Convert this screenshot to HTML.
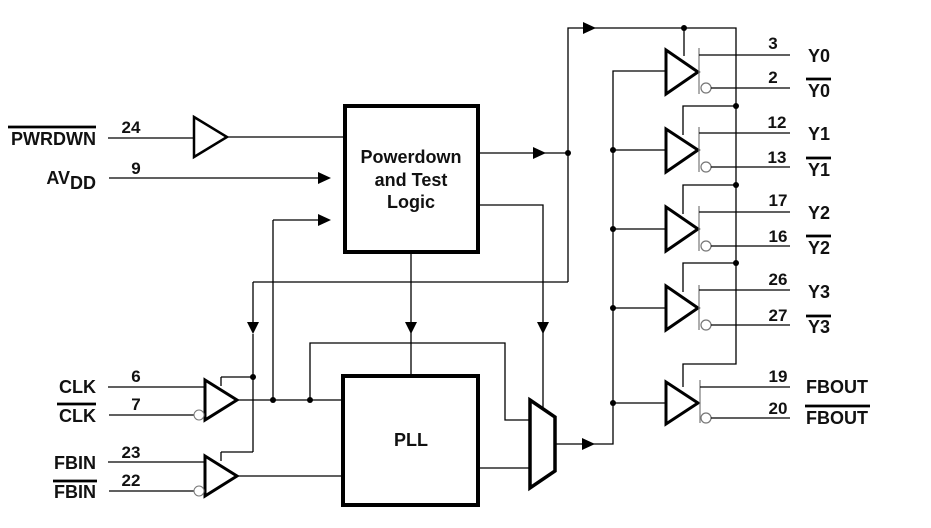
<!DOCTYPE html>
<html><head><meta charset="utf-8"><style>
html,body{margin:0;padding:0;background:#fff;}
svg{display:block;}
text{font-family:"Liberation Sans",Arial,sans-serif;font-weight:bold;fill:#111;}
</style></head><body>
<svg width="931" height="528" viewBox="0 0 931 528" xmlns="http://www.w3.org/2000/svg">
<g stroke="#000" stroke-width="1.3" fill="none">
<line x1="108" y1="138" x2="194" y2="138"/>
<line x1="227" y1="137" x2="345" y2="137"/>
<line x1="109" y1="178" x2="320" y2="178"/>
<line x1="273" y1="220" x2="320" y2="220"/>
<line x1="273" y1="220" x2="273" y2="400"/>
<line x1="253" y1="282" x2="568" y2="282"/>
<line x1="253" y1="282" x2="253" y2="326"/>
<line x1="253" y1="334" x2="253" y2="452"/>
<line x1="253" y1="377" x2="221" y2="377"/><line x1="221" y1="377" x2="221" y2="386"/>
<line x1="253" y1="452" x2="221" y2="452"/><line x1="221" y1="452" x2="221" y2="461"/>
<line x1="108" y1="387" x2="205" y2="387"/>
<line x1="109" y1="415" x2="195" y2="415"/>
<line x1="237" y1="400" x2="343" y2="400"/>
<line x1="108" y1="462" x2="205" y2="462"/>
<line x1="109" y1="491" x2="195" y2="491"/>
<line x1="237" y1="476" x2="343" y2="476"/>
<polyline points="310,400 310,343 505,343 505,420 530,420"/>
<line x1="411" y1="252" x2="411" y2="375"/>
<polyline points="478,205 543,205 543,410"/>
<line x1="478" y1="468" x2="530" y2="468"/>
<polyline points="555,444 613,444 613,71 666,71"/>
<line x1="613" y1="150" x2="666" y2="150"/>
<line x1="613" y1="229" x2="666" y2="229"/>
<line x1="613" y1="308" x2="666" y2="308"/>
<line x1="613" y1="403" x2="666" y2="403"/>
<line x1="478" y1="153" x2="568" y2="153"/>
<polyline points="568,282 568,28 736,28 736,364 683,364 683,387"/>
<line x1="684" y1="28" x2="684" y2="56"/>
<polyline points="736,106 683,106 683,135"/>
<polyline points="736,185 683,185 683,214"/>
<polyline points="736,263 683,263 683,292"/>
</g>
<rect x="345" y="106" width="133" height="146" fill="none" stroke="#000" stroke-width="4"/>
<rect x="343" y="376" width="135" height="129" fill="none" stroke="#000" stroke-width="4"/>
<polygon points="530,400 555,417 555,471 530,488" fill="#fff" stroke="#000" stroke-width="3.5"/>
<polygon points="194,117 227,137 194,157" fill="#fff" stroke="#000" stroke-width="2.5"/>
<polygon points="205,380 237,400 205,420" fill="#fff" stroke="#000" stroke-width="3"/>
<polygon points="205,456 237,476 205,496" fill="#fff" stroke="#000" stroke-width="3"/>
<circle cx="199" cy="415" r="5" fill="#fff" stroke="#777" stroke-width="1"/>
<circle cx="199" cy="491" r="5" fill="#fff" stroke="#777" stroke-width="1"/>
<g stroke="#000" fill="#fff">
<polygon points="666,50 698,72 666,94" stroke-width="3"/>
<polygon points="666,129 698,150 666,172" stroke-width="3"/>
<polygon points="666,207 698,229 666,251" stroke-width="3"/>
<polygon points="666,286 698,308 666,330" stroke-width="3"/>
<polygon points="666,382 698,403 666,424" stroke-width="3"/>
</g>
<g stroke="#777" stroke-width="1.2" fill="#fff">
<line x1="699" y1="48" x2="699" y2="94"/><line x1="699" y1="127" x2="699" y2="172"/>
<line x1="699" y1="206" x2="699" y2="251"/><line x1="699" y1="285" x2="699" y2="330"/>
<line x1="700" y1="380" x2="700" y2="423"/>
<circle cx="706" cy="88" r="5"/><circle cx="706" cy="167" r="5"/><circle cx="706" cy="246" r="5"/>
<circle cx="706" cy="325" r="5"/><circle cx="706" cy="418" r="5"/>
</g>
<g stroke="#000" stroke-width="1.3">
<line x1="699" y1="55" x2="790" y2="55"/><line x1="711" y1="88" x2="790" y2="88"/>
<line x1="699" y1="133" x2="790" y2="133"/><line x1="711" y1="167" x2="790" y2="167"/>
<line x1="699" y1="212" x2="790" y2="212"/><line x1="711" y1="246" x2="790" y2="246"/>
<line x1="699" y1="290" x2="790" y2="290"/><line x1="711" y1="325" x2="790" y2="325"/>
<line x1="700" y1="387" x2="790" y2="387"/><line x1="711" y1="418" x2="790" y2="418"/>
</g>
<g fill="#000">
<polygon points="318,172 331,178 318,184"/>
<polygon points="318,214 331,220 318,226"/>
<polygon points="533,147 546,153 533,159"/>
<polygon points="583,22 596,28 583,34"/>
<polygon points="582,438 595,444 582,450"/>
<polygon points="247,322 259,322 253,334"/>
<polygon points="405,322 417,322 411,334"/>
<polygon points="537,322 549,322 543,334"/>
<circle cx="568" cy="153" r="3"/><circle cx="684" cy="28" r="3"/>
<circle cx="736" cy="106" r="3"/><circle cx="736" cy="185" r="3"/><circle cx="736" cy="263" r="3"/>
<circle cx="613" cy="150" r="3"/><circle cx="613" cy="229" r="3"/><circle cx="613" cy="308" r="3"/><circle cx="613" cy="403" r="3"/>
<circle cx="253" cy="377" r="3"/><circle cx="273" cy="400" r="3"/><circle cx="310" cy="400" r="3"/>
</g>
<g font-size="18">
<text x="411" y="163" text-anchor="middle">Powerdown</text>
<text x="411" y="186" text-anchor="middle">and Test</text>
<text x="411" y="208" text-anchor="middle">Logic</text>
<text x="411" y="446" text-anchor="middle">PLL</text>
</g>
<g font-size="18">
<text x="96" y="145" text-anchor="end">PWRDWN</text>
<text x="96" y="184" text-anchor="end">AV<tspan dy="5">DD</tspan></text>
<text x="96" y="393" text-anchor="end">CLK</text>
<text x="96" y="422" text-anchor="end">CLK</text>
<text x="96" y="469" text-anchor="end">FBIN</text>
<text x="96" y="498" text-anchor="end">FBIN</text>
<text x="808" y="62">Y0</text><text x="808" y="97">Y0</text>
<text x="808" y="140">Y1</text><text x="808" y="176">Y1</text>
<text x="808" y="219">Y2</text><text x="808" y="254">Y2</text>
<text x="808" y="298">Y3</text><text x="808" y="333">Y3</text>
<text x="806" y="393">FBOUT</text><text x="806" y="424">FBOUT</text>
</g>
<g font-size="17">
<text x="131" y="133" text-anchor="middle">24</text>
<text x="136" y="174" text-anchor="middle">9</text>
<text x="136" y="382" text-anchor="middle">6</text>
<text x="136" y="410" text-anchor="middle">7</text>
<text x="131" y="458" text-anchor="middle">23</text>
<text x="131" y="486" text-anchor="middle">22</text>
<text x="773" y="49" text-anchor="middle">3</text>
<text x="773" y="83" text-anchor="middle">2</text>
<text x="777" y="128" text-anchor="middle">12</text>
<text x="777" y="163" text-anchor="middle">13</text>
<text x="778" y="206" text-anchor="middle">17</text>
<text x="778" y="242" text-anchor="middle">16</text>
<text x="778" y="285" text-anchor="middle">26</text>
<text x="778" y="321" text-anchor="middle">27</text>
<text x="778" y="382" text-anchor="middle">19</text>
<text x="778" y="414" text-anchor="middle">20</text>
</g>
<g stroke="#000" stroke-width="2.8">
<line x1="8" y1="127" x2="96" y2="127"/>
<line x1="57" y1="404" x2="96" y2="404"/>
<line x1="53" y1="481" x2="97" y2="481"/>
<line x1="806" y1="79" x2="831" y2="79"/>
<line x1="806" y1="158" x2="831" y2="158"/>
<line x1="806" y1="236" x2="831" y2="236"/>
<line x1="806" y1="316" x2="831" y2="316"/>
<line x1="805" y1="406" x2="870" y2="406"/>
</g>
</svg>
</body></html>
